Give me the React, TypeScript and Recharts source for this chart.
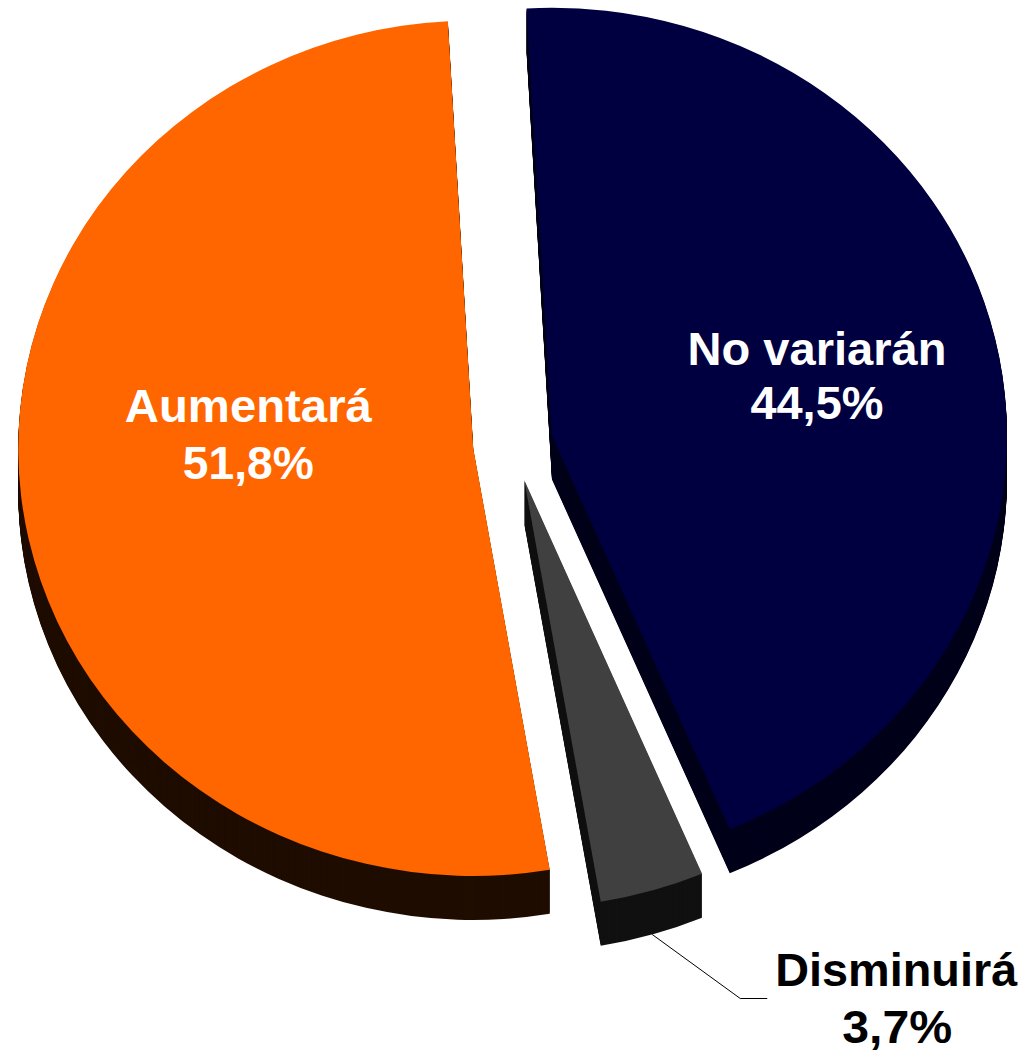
import React from 'react';
import { PieChart, Pie, Cell, Sector } from 'recharts';

const categories = ['No variarán', 'Disminuirá', 'Aumentará'];
const shares = [44.5, 3.7, 51.8];
const shareLabels = ['44,5%', '3,7%', '51,8%'];

const topColors = ['#000040', '#404040', '#FF6600'];
const sideColors = ['#00001A', '#111111', '#1F0D00'];

const data = categories.map((name, i) => ({ name, value: shares[i], text: shareLabels[i] }));

// pie geometry (3D look: tilted ellipse, extruded sides, exploded slices)
const CX = 513;
const CY = 444;
const R = 455;
const TILT = 0.94;
const DEPTH = 44;
const EXPLODE = 40;
const RAD = Math.PI / 180;
const FONT = '"Liberation Sans", Arial, sans-serif';

const explodeOffset = (mid: number) => [EXPLODE * Math.cos(mid * RAD), -EXPLODE * TILT * Math.sin(mid * RAD)];

const squash = (cx: number, cy: number, dx: number, dy: number) =>
  `translate(${dx},${dy}) translate(${cx},${cy}) scale(1,${TILT}) translate(${-cx},${-cy})`;

const SideShape = (p: any) => {
  const [dx, dy] = explodeOffset(p.midAngle);
  const layers = [];
  for (let s = DEPTH; s >= 1; s--) {
    layers.push(
      <g key={s} transform={squash(p.cx, p.cy, dx, dy + s)}>
        <Sector cx={p.cx} cy={p.cy} innerRadius={0} outerRadius={p.outerRadius}
          startAngle={p.startAngle} endAngle={p.endAngle} fill={p.fill} stroke="none" />
      </g>
    );
  }
  return <g>{layers}</g>;
};

const TopShape = (p: any) => {
  const [dx, dy] = explodeOffset(p.midAngle);
  return (
    <g transform={squash(p.cx, p.cy, dx, dy)}>
      <Sector cx={p.cx} cy={p.cy} innerRadius={0} outerRadius={p.outerRadius}
        startAngle={p.startAngle} endAngle={p.endAngle} fill={p.fill} stroke="none" />
    </g>
  );
};

// label placement: polar spot relative to the exploded slice centre
const labelSpots: Record<string, { r: number; turn: number; w1: number; w2: number; gap: number }> = {
  'No variarán': { r: 0.605, turn: 2.6, w1: 259, w2: 133, gap: 54 },
  'Aumentará': { r: 0.498, turn: -13.45, w1: 247, w2: 131, gap: 57 },
};

const renderLabel = (p: any) => {
  const [dx, dy] = explodeOffset(p.midAngle);
  const ox = p.cx + dx;
  const oy = p.cy + dy;
  const spot = labelSpots[p.name];
  if (spot) {
    const a = (p.midAngle + spot.turn) * RAD;
    const x = ox + spot.r * p.outerRadius * Math.cos(a);
    const y = oy - spot.r * p.outerRadius * TILT * Math.sin(a);
    return (
      <g key={p.name}>
        <text x={x} y={y} textAnchor="middle" fill="#fff" fontFamily={FONT} fontWeight="bold" fontSize={47}
          textLength={spot.w1} lengthAdjust="spacingAndGlyphs">{p.name}</text>
        <text x={x} y={y + spot.gap} textAnchor="middle" fill="#fff" fontFamily={FONT} fontWeight="bold" fontSize={47}
          textLength={spot.w2} lengthAdjust="spacingAndGlyphs">{p.payload.text}</text>
      </g>
    );
  }
  // small slice: outside label with leader line from the front edge
  const m = p.midAngle * RAD;
  const sx = ox + p.outerRadius * Math.cos(m);
  const sy = oy - p.outerRadius * TILT * Math.sin(m) + DEPTH;
  const ex = sx + 88;
  const ey = sy + 64;
  const hx = ex + 27;
  const tx = hx + 129;
  return (
    <g key={p.name}>
      <polyline points={`${sx},${sy} ${ex},${ey} ${hx},${ey}`} fill="none" stroke="#000" strokeWidth={1} />
      <text x={tx} y={ey - 13} textAnchor="middle" fill="#000" fontFamily={FONT} fontWeight="bold" fontSize={47}
        textLength={242} lengthAdjust="spacingAndGlyphs">{p.name}</text>
      <text x={tx + 1} y={ey + 44} textAnchor="middle" fill="#000" fontFamily={FONT} fontWeight="bold" fontSize={47}
        textLength={110} lengthAdjust="spacingAndGlyphs">{p.payload.text}</text>
    </g>
  );
};

export default function App() {
  return (
    <div style={{ position: 'absolute', left: 0, top: 0, width: 1020, height: 1052, background: '#fff' }}>
      <PieChart width={1020} height={1052} margin={{ top: 0, right: 0, bottom: 0, left: 0 }}>
        <Pie data={data} dataKey="value" nameKey="name" cx={CX} cy={CY} outerRadius={R}
          startAngle={93.2} endAngle={-266.8} stroke="none" isAnimationActive={false} shape={SideShape}>
          {data.map((d, i) => <Cell key={d.name} fill={sideColors[i]} />)}
        </Pie>
        <Pie data={data} dataKey="value" nameKey="name" cx={CX} cy={CY} outerRadius={R}
          startAngle={93.2} endAngle={-266.8} stroke="none" isAnimationActive={false} shape={TopShape}
          label={renderLabel} labelLine={false}>
          {data.map((d, i) => <Cell key={d.name} fill={topColors[i]} />)}
        </Pie>
      </PieChart>
    </div>
  );
}
